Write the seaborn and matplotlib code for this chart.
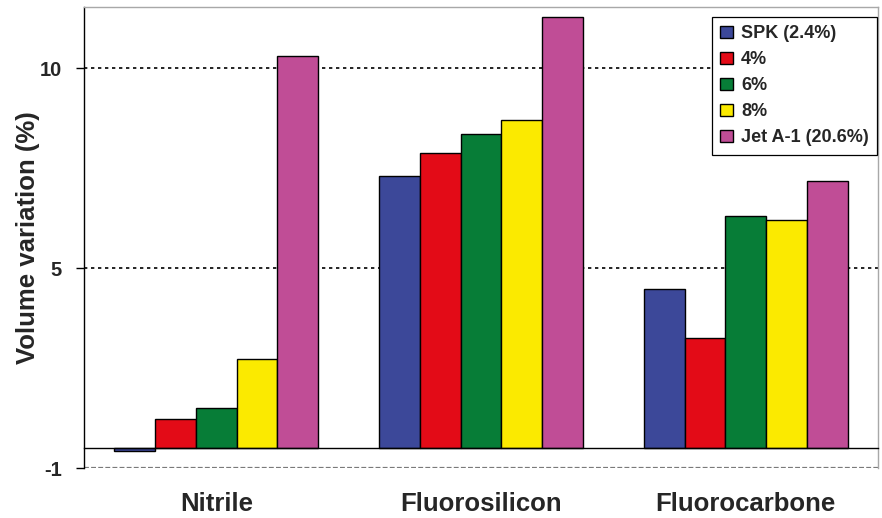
import matplotlib
matplotlib.use("Agg")
import matplotlib.pyplot as plt
import numpy as np
import pandas as pd
import seaborn as sns

materials = ["Nitrile", "Fluorosilicon", "Fluorocarbone"]
fuels = ["SPK (2.4%)", "4%", "6%", "8%", "Jet A-1 (20.6%)"]
spk = [-0.08, 6.81, 3.98]
blend4 = [0.73, 7.38, 2.75]
blend6 = [1.00, 7.86, 5.79]
blend8 = [2.23, 8.19, 5.71]
jet_a1 = [9.80, 10.78, 6.68]

# the printed axis labels sit at these positions in the original
ytick_pos = [-0.5, 4.5, 9.5]
ytick_labels = ["-1", "5", "10"]

colors = ["#3C4899", "#E30B17", "#077D37", "#FBEA00", "#C04D96"]

df = pd.DataFrame({
    "material": materials * len(fuels),
    "fuel": np.repeat(fuels, len(materials)),
    "value": spk + blend4 + blend6 + blend8 + jet_a1,
})

sns.set_style("white")
plt.rcParams["font.family"] = ["Liberation Sans", "DejaVu Sans"]
plt.rcParams["font.weight"] = "bold"

fig = plt.figure(figsize=(8.82, 5.18), dpi=100)
ax = fig.add_axes([84 / 882, 50 / 518, 794 / 882, 461 / 518])

sns.barplot(data=df, x="material", y="value", hue="fuel", order=materials,
            hue_order=fuels, palette=colors, width=0.77, gap=0,
            saturation=1, edgecolor="black", linewidth=1, ax=ax)

ax.set_xlim(-0.5, 2.5)
ax.set_ylim(-0.5, 11.025)

# dotted gridlines and the dashed grey floor
for y in ytick_pos[1:]:
    ax.axhline(y, color="black", lw=1.2, ls=(0, (2, 2.2)), zorder=0.5)
ax.axhline(ytick_pos[0], color="#7a7a7a", lw=1.6, ls=(0, (2.2, 1.0)), zorder=0.5)

# category axis drawn at the bar baseline
ax.spines["bottom"].set_position(("data", 0))
ax.spines["bottom"].set_color("black")
ax.spines["bottom"].set_linewidth(1)
ax.spines["left"].set_color("black")
ax.spines["left"].set_linewidth(1)
for s in ["top", "right"]:
    ax.spines[s].set_color("#a8a8a8")
    ax.spines[s].set_linewidth(1)

ax.set_xticks(range(len(materials)))
ax.set_xticklabels(materials, fontsize=18.5, fontweight="bold")
ax.set_xticks(np.arange(-0.5, len(materials), 1.0), minor=True)
ax.tick_params(axis="x", which="major", length=0, pad=32)
ax.tick_params(axis="x", which="minor", length=5, width=1, direction="out",
               color="#555555")

ax.set_yticks(ytick_pos)
ax.set_yticklabels(ytick_labels, fontsize=14.5, fontweight="bold")
ax.tick_params(axis="y", length=6, width=1, direction="out", left=True,
               color="black", pad=10)

ax.set_xlabel("")
ax.set_ylabel("Volume variation (%)", fontsize=18.5, fontweight="bold")
ax.yaxis.set_label_coords(-0.056, 0.5)

leg = ax.legend(loc="upper right", bbox_to_anchor=(0.9987, 0.978),
                borderaxespad=0, prop={"weight": "bold", "size": 13},
                frameon=True, fancybox=False, framealpha=1, edgecolor="black",
                handlelength=0.7, handleheight=0.7, handletextpad=0.45,
                labelspacing=0.5, borderpad=0.45)
leg.get_frame().set_linewidth(0.9)

fig.savefig("out.png", dpi=100)
